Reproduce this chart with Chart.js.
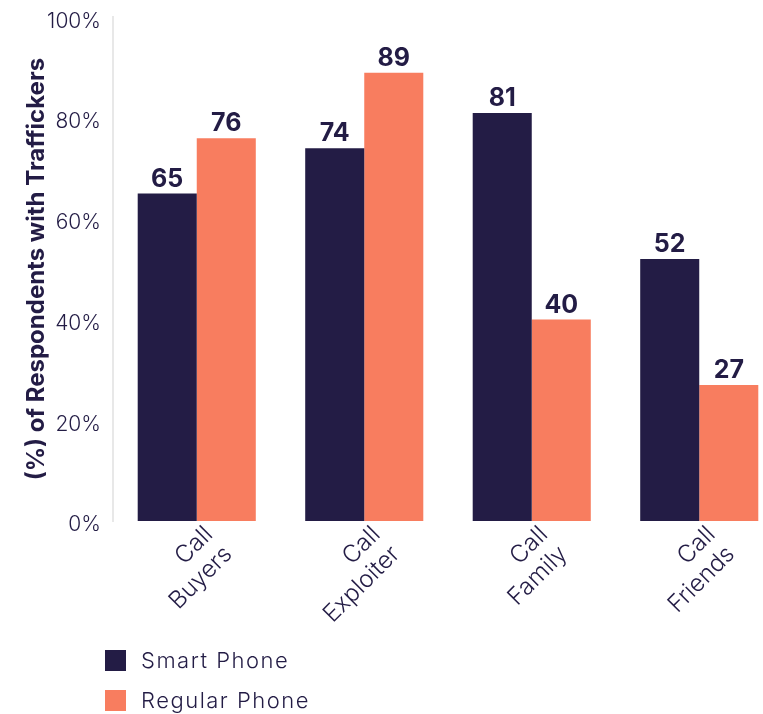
<!DOCTYPE html>
<html>
<head>
<meta charset="utf-8">
<script src="https://cdn.jsdelivr.net/npm/chart.js@4.4.1/dist/chart.umd.min.js"></script>
<style>
  html, body { margin: 0; padding: 0; overflow: hidden; background: #fff; }
  #wrap { position: relative; width: 785px; height: 714px; }
  #legend { position: absolute; left: 105px; top: 650px; font-family: Inter, sans-serif; font-size: 22px; font-weight: 300; letter-spacing: 1.5px; color: #231c45; }
  #legend .item { display: flex; align-items: center; height: 20px; margin-bottom: 20px; }
  #legend .box { width: 21px; height: 21px; margin-right: 15px; }
</style>
</head>
<body>
<div id="wrap">
  <canvas id="chart" width="785" height="714"></canvas>
  <div id="legend"></div>
</div>
<script>
// chart data
const categories = [['Call', 'Buyers'], ['Call', 'Exploiter'], ['Call', 'Family'], ['Call', 'Friends']];
const seriesNames = ['Smart Phone', 'Regular Phone'];
const smartPhone = [65, 74, 81, 52];
const regularPhone = [76, 89, 40, 27];
const yTicks = [0, 20, 40, 60, 80, 100];

const navy = '#231c45';
const coral = '#f87d5f';

// draws the value above each bar
const valueLabels = {
    id: 'valueLabels',
    afterDatasetsDraw(chart) {
        const ctx = chart.ctx;
        ctx.save();
        ctx.font = 'bold 25px Inter, sans-serif';
        ctx.fillStyle = navy;
        ctx.textAlign = 'center';
        ctx.textBaseline = 'alphabetic';
        chart.data.datasets.forEach((ds, i) => {
            chart.getDatasetMeta(i).data.forEach((bar, j) => {
                ctx.fillText(ds.data[j], bar.x, bar.y - 7);
            });
        });
        ctx.restore();
    }
};

// html legend built from the datasets
const htmlLegend = {
    id: 'htmlLegend',
    afterUpdate(chart) {
        const el = document.getElementById('legend');
        el.innerHTML = '';
        chart.data.datasets.forEach(ds => {
            const item = document.createElement('div');
            item.className = 'item';
            const box = document.createElement('span');
            box.className = 'box';
            box.style.background = ds.backgroundColor;
            item.appendChild(box);
            item.appendChild(document.createTextNode(ds.label));
            el.appendChild(item);
        });
    }
};

const ctx = document.getElementById('chart').getContext('2d');
new Chart(ctx, {
    type: 'bar',
    data: {
        labels: categories,
        datasets: [
            { label: seriesNames[0], data: smartPhone, backgroundColor: navy },
            { label: seriesNames[1], data: regularPhone, backgroundColor: coral }
        ]
    },
    options: {
        responsive: false,
        animation: false,
        layout: { padding: { top: 11, right: 2, left: 0, bottom: 0 } },
        datasets: { bar: { categoryPercentage: 0.705, barPercentage: 1.0 } },
        plugins: {
            legend: { display: false },
            tooltip: { enabled: false }
        },
        scales: {
            x: {
                grid: { display: false, drawTicks: false },
                border: { display: false },
                ticks: {
                    color: navy,
                    font: { family: 'Inter, sans-serif', size: 24, weight: 300, lineHeight: 1.15 },
                    minRotation: 45,
                    maxRotation: 45,
                    padding: 0,
                    labelOffset: 12
                },
                afterFit(scale) { scale.height = 714 - 521; }
            },
            y: {
                min: 0,
                max: 100,
                afterBuildTicks(scale) { scale.ticks = yTicks.map(v => ({ value: v })); },
                grid: { display: false, drawTicks: false },
                border: { display: true, color: '#e8e8e8', width: 2 },
                ticks: {
                    color: navy,
                    font: { family: 'Inter, sans-serif', size: 21, weight: 300, lineHeight: 0.5 },
                    padding: 12,
                    labelOffset: 4,
                    callback: v => v + '%'
                },
                title: {
                    display: true,
                    text: '(%) of Respondents with Traffickers',
                    color: navy,
                    font: { family: 'Inter, sans-serif', size: 24, weight: 'bold' },
                    padding: { top: 22, bottom: 0 }
                },
                afterFit(scale) { scale.width = 113; }
            }
        }
    },
    plugins: [valueLabels, htmlLegend]
});
</script>
</body>
</html>
